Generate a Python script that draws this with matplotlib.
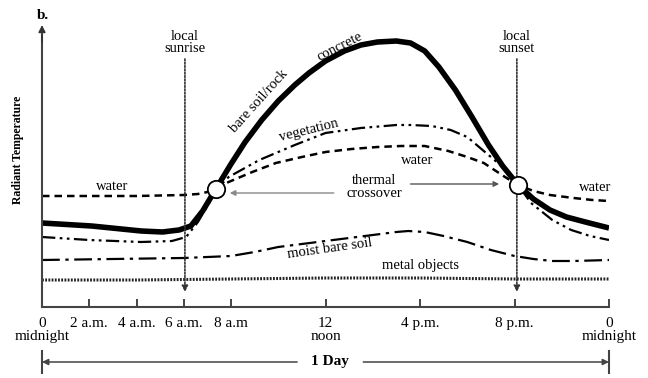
import matplotlib.pyplot as plt

plt.rcParams['font.family'] = ['Liberation Serif', 'DejaVu Serif']

# ---- data (hour of day, relative radiant temperature) ----
conc_h = [0, 2.1, 4.2, 5.1, 5.8, 6.3, 6.8, 7.36, 8.0, 8.6, 9.3, 10.0, 10.7, 11.3, 12.0, 12.8,
          13.5, 14.2, 15.0, 15.6, 16.2, 16.8, 17.5, 18.2, 18.9, 19.5, 20.15, 20.8, 21.5, 22.2, 23.0, 24]
conc_t = [84, 81, 76, 75, 77, 81, 96, 118, 143, 165, 187, 206, 222, 234, 246, 256,
          262, 265, 266, 264, 256, 240, 217, 190, 162, 141, 122, 108, 97, 90, 85, 79]

veg_h = [0, 2, 4.2, 5.5, 6.1, 6.6, 7.1, 7.36, 7.9, 9.2, 10.7, 12.0, 13.5, 15.0, 15.6, 16.5,
         17.3, 18.0, 18.5, 19.5, 20.15, 20.7, 21.6, 22.4, 23.2, 24]
veg_t = [70, 67, 65, 66, 70, 85, 105, 117, 130, 147, 162, 174, 179, 182, 182, 181,
         177, 170, 160, 140, 122, 104, 87, 77, 71, 67]

wat_h = [0, 2, 4, 6, 6.6, 7.0, 7.36, 7.9, 8.9, 9.9, 11.0, 12.0, 13.1, 14.2, 15.2, 16.2,
         17.2, 18.0, 18.7, 19.6, 20.15, 20.8, 21.5, 22.5, 23.3, 24]
wat_t = [111, 111, 111, 112, 113, 115, 119, 125, 135, 144, 150, 155, 158, 160, 161, 161,
         156, 150, 144, 130, 122, 116, 112, 109, 107, 106]

moist_h = [0, 3, 6, 8, 9, 10, 11, 12, 13, 14, 15, 15.5, 16.2, 17, 18, 19, 20, 20.8, 21.6, 22.5, 24]
moist_t = [47, 48, 49, 51, 55, 60, 63, 66, 69, 72, 75, 76, 75, 71, 65, 57, 51, 48, 46, 46, 47]

metal_h = [0, 4, 8, 12, 16, 20, 24]
metal_t = [27, 27, 28, 29, 29, 28, 28]

tick_hours = [0, 2, 4, 6, 8, 12, 16, 20, 24]
tick_labels = ['0\nmidnight', '2 a.m.', '4 a.m.', '6 a.m.', '8 a.m', '12\nnoon',
               '4 p.m.', '8 p.m.', '0\nmidnight']

sunrise_h = 6.05
sunset_h = 20.1
cross_h = [7.36, 20.15]
cross_t = [118, 122]

# ---- figure ----
fig = plt.figure(figsize=(6.48, 3.78), dpi=100)
ax = fig.add_axes([42/648, 71/378, 567/648, 280/378])
ax.set_xlim(0, 24)
ax.set_ylim(0, 280)

ax.plot(metal_h, metal_t, color='#222222', lw=2.2, dashes=(0.6, 0.45))
ax.plot(moist_h, moist_t, color='black', lw=1.6, dashes=(8, 2.5, 1.5, 2.5))
ax.plot(wat_h, wat_t, color='black', lw=1.8, dashes=(3, 2))
ax.plot(veg_h, veg_t, color='black', lw=1.6, dashes=(6, 2, 1.2, 2, 1.2, 2))
ax.plot(conc_h, conc_t, color='black', lw=4.0, solid_joinstyle='round', solid_capstyle='butt')
ax.plot(cross_h, cross_t, 'o', ms=12.5, mfc='white', mec='black', mew=1.3, zorder=5)

fs = 10.5

# sunrise / sunset markers
for h, lab in [(sunrise_h, 'local\nsunrise'), (sunset_h, 'local\nsunset')]:
    ax.annotate('', xy=(h, 15), xytext=(h, 248), arrowprops=dict(
        arrowstyle='-|>', color='#333333', lw=1.2, linestyle=(0, (1, 1)),
        mutation_scale=9, shrinkA=0, shrinkB=0), annotation_clip=False)
    ax.text(h, 252, lab, ha='center', va='bottom', fontsize=fs, linespacing=0.95)

# thermal crossover
ax.text(14.06, 120, 'thermal\ncrossover', ha='center', va='center', fontsize=fs, linespacing=0.95)
ax.annotate('', xy=(7.95, 114), xytext=(12.35, 114), arrowprops=dict(
    arrowstyle='-|>', color='#888888', lw=1.0, mutation_scale=8, shrinkA=0, shrinkB=0))
ax.annotate('', xy=(19.35, 123), xytext=(15.6, 123), arrowprops=dict(
    arrowstyle='-|>', color='#555555', lw=1.0, mutation_scale=8, shrinkA=0, shrinkB=0))

# curve labels
ax.text(2.95, 121, 'water', ha='center', va='center', fontsize=fs)
ax.text(23.4, 120, 'water', ha='center', va='center', fontsize=fs)
ax.text(15.9, 147, 'water', ha='center', va='center', fontsize=fs)
ax.text(11.3, 177, 'vegetation', ha='center', va='center', fontsize=fs, rotation=14)
ax.text(9.2, 206, 'bare soil/rock', ha='center', va='center', fontsize=fs, rotation=48)
ax.text(12.6, 260, 'concrete', ha='center', va='center', fontsize=fs, rotation=27)
ax.text(12.2, 58, 'moist bare soil', ha='center', va='center', fontsize=fs, rotation=8)
ax.text(16.0, 42, 'metal objects', ha='center', va='center', fontsize=fs)

# axes styling
for s in ['top', 'right']:
    ax.spines[s].set_visible(False)
ax.spines['left'].set_color('#444444')
ax.spines['bottom'].set_color('#444444')
ax.spines['left'].set_linewidth(1.5)
ax.spines['bottom'].set_linewidth(1.5)
ax.spines['left'].set_bounds(0, 272)
ax.annotate('', xy=(0, 282), xytext=(0, 265), arrowprops=dict(
    arrowstyle='-|>', color='#333333', lw=1.2, mutation_scale=10, shrinkA=0, shrinkB=0),
    annotation_clip=False)
ax.set_yticks([])
ax.set_xticks(tick_hours)
ax.set_xticklabels(tick_labels, fontsize=11, linespacing=1.0)
ax.tick_params(axis='x', direction='in', length=6, width=1.4, color='#444444', pad=7)
ax.patch.set_visible(False)

ax.text(-1.0, 157, 'Radiant Temperature', rotation=90, ha='center', va='center',
        fontsize=8.5, fontweight='bold')
ax.text(0.05, 292, 'b.', ha='center', va='center', fontsize=11, fontweight='bold')

# 1 Day span
ax.text(12.2, -55, '1 Day', ha='center', va='center', fontsize=11, fontweight='bold')
ax.annotate('', xy=(0, -55), xytext=(10.8, -55), arrowprops=dict(
    arrowstyle='-|>', color='#444444', lw=1.1, mutation_scale=9, shrinkA=0, shrinkB=0),
    annotation_clip=False)
ax.annotate('', xy=(24, -55), xytext=(13.6, -55), arrowprops=dict(
    arrowstyle='-|>', color='#444444', lw=1.1, mutation_scale=9, shrinkA=0, shrinkB=0),
    annotation_clip=False)
ax.plot([0, 0], [-44, -66], color='#444444', lw=1.5, clip_on=False)
ax.plot([24, 24], [-44, -66], color='#444444', lw=1.5, clip_on=False)

fig.savefig('out.png', dpi=100)
